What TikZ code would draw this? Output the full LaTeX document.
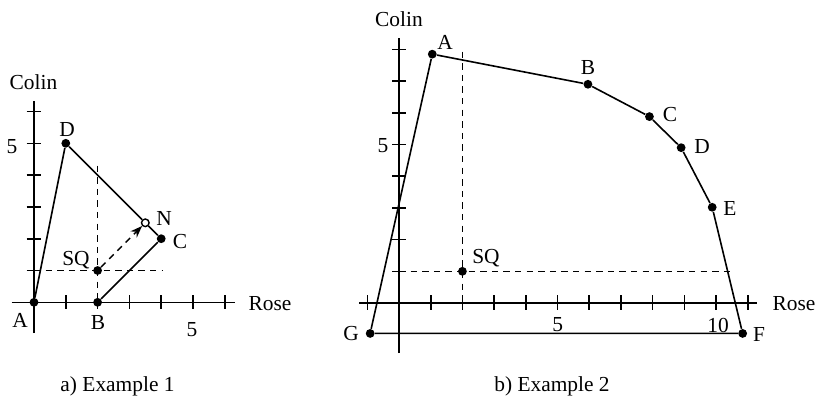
\documentclass[tikz,border=0pt]{standalone}
\usepackage{fontspec}
\setmainfont{Liberation Serif}
\usetikzlibrary{arrows.meta}
\begin{document}
\begin{tikzpicture}[x=0.5pt,y=-0.5pt,
  ln/.style={line width=0.8pt},
  dsh/.style={line width=0.7pt, dash pattern=on 3.2pt off 2.6pt},
  dot/.style={circle,fill=black,inner sep=0pt,minimum size=4.4pt},
  odot/.style={circle,draw=black,fill=white,line width=0.7pt,inner sep=0pt,minimum size=3.8pt},
  lbl/.style={inner sep=0pt,font=\fontsize{10.7}{12}\selectfont},
  tk/.style={line width=0.8pt}]
\useasboundingbox (0,0) rectangle (817,396);

% ---------- left: Example 1 ----------
\begin{scope}[shift={(34,302.3)},x=15.9pt,y=15.9pt]
  \coordinate (lx0) at (-0.7,0);  \coordinate (lx1) at (6.32,0);
  \coordinate (ly0) at (0,-0.97); \coordinate (ly1) at (0,6.32);
  \draw[ln] (lx0) -- (lx1);
  \draw[ln] (ly0) -- (ly1);
  \foreach \i in {1,...,6} {
    \draw[tk] (\i,-0.2) -- (\i,0.22);
    \draw[tk] (-0.23,\i) -- (0.23,\i);
  }
  \coordinate (lv0) at (2,4.3);  \coordinate (lv1) at (2,0);
  \coordinate (lh0) at (0,1);    \coordinate (lh1) at (4.05,1);
  \draw[dsh] (lv0) -- (lv1);
  \draw[dsh] (lh0) -- (lh1);
  \node[dot] (lA) at (0,0) {};
  \node[dot] (lB) at (2,0) {};
  \node[dot] (lC) at (4,2) {};
  \node[dot] (lD) at (1,5) {};
  \node[dot] (lSQ) at (2,1) {};
  \node[odot] (lN) at (3.5,2.5) {};
  \draw[ln] (lA) -- (lD) -- (lN) -- (lC) -- (lB);
  \draw[dsh,-{Stealth[length=6pt,width=4.4pt]}] (lSQ) -- (lN);
\end{scope}

\node[lbl] (lColin) at (33.5,82) {Colin};
\node[lbl] (l5y) at (12,147) {5};
\node[lbl] (lDl) at (67,130) {D};
\node[lbl] (lNl) at (164,218) {N};
\node[lbl] (lCl) at (180,241.5) {C};
\node[lbl] (lSQl) at (76,260) {SQ};
\node[lbl] (lAl) at (20,320) {A};
\node[lbl] (lBl) at (98,323) {B};
\node[lbl] (l5x) at (192,330) {5};
\node[lbl] (lRose) at (270,304) {Rose};
\node[lbl,anchor=base] (capA) at (117.5,391) {a) Example 1};

% ---------- right: Example 2 ----------
\begin{scope}[shift={(399,303)},x=15.85pt,y=15.85pt]
  \coordinate (rx0) at (-1.25,0);  \coordinate (rx1) at (11.3,0);
  \coordinate (ry0) at (0,-1.58);  \coordinate (ry1) at (0,8.36);
  \draw[ln] (rx0) -- (rx1);
  \draw[ln] (ry0) -- (ry1);
  \foreach \i in {-1,1,2,...,11} {
    \draw[tk] (\i,-0.22) -- (\i,0.26);
  }
  \foreach \i in {1,...,8} {
    \draw[tk] (-0.21,\i) -- (0.21,\i);
  }
  \coordinate (rv0) at (2,7.93);  \coordinate (rv1) at (2,0);
  \coordinate (rh0) at (0,1);     \coordinate (rh1) at (10.5,1);
  \draw[dsh] (rv0) -- (rv1);
  \draw[dsh] (rh0) -- (rh1);
  \node[dot] (rA) at (1.05,7.85) {};
  \node[dot] (rB) at (5.96,6.9) {};
  \node[dot] (rC) at (7.9,5.88) {};
  \node[dot] (rD) at (8.9,4.9) {};
  \node[dot] (rE) at (9.88,3.02) {};
  \node[dot] (rF) at (10.84,-0.96) {};
  \node[dot] (rG) at (-0.91,-0.96) {};
  \node[dot] (rSQ) at (2,1) {};
  \draw[ln] (rG) -- (rA) -- (rB) -- (rC) -- (rD) -- (rE) -- (rF) -- (rG);
\end{scope}

\node[lbl] (rColin) at (399,19) {Colin};
\node[lbl] (r5y) at (383,146) {5};
\node[lbl] (rAl) at (445,42) {A};
\node[lbl] (rBl) at (588,68) {B};
\node[lbl] (rCl) at (670,115) {C};
\node[lbl] (rDl) at (702,147) {D};
\node[lbl] (rEl) at (730,208) {E};
\node[lbl] (rSQl) at (486,258) {SQ};
\node[lbl] (r5x) at (557.7,325) {5};
\node[lbl] (r10x) at (718,325) {10};
\node[lbl] (rRose) at (794,304) {Rose};
\node[lbl] (rGl) at (351,334) {G};
\node[lbl] (rFl) at (759,334) {F};
\node[lbl,anchor=base] (capB) at (552,391) {b) Example 2};
\end{tikzpicture}
\end{document}
